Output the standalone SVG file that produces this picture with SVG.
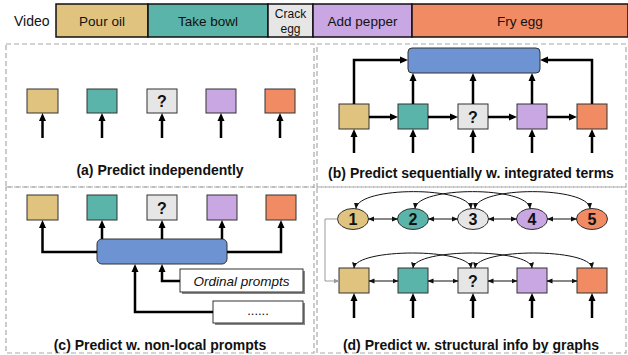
<svg xmlns="http://www.w3.org/2000/svg" width="628" height="355" viewBox="0 0 628 355">
<style>
text{font-family:"Liberation Sans",Arial,sans-serif;fill:#111}
.bar{stroke:#111;stroke-width:1.5}
.lbl{font-size:13.5px;text-anchor:middle}
.cap{font-size:14px;font-weight:bold;text-anchor:middle}
.q{font-size:16px;font-weight:bold;text-anchor:middle}
.panel{fill:none;stroke:#aaa;stroke-width:1.2;stroke-dasharray:5 3}
.bx{stroke:#333;stroke-width:1}
.c1{fill:#DFC37F}.c2{fill:#5BB4A9}.c3{fill:#E6E6E6}.c4{fill:#C9A7E2}.c5{fill:#F08B63}
.blue{fill:#6E93D2;stroke:#333;stroke-width:1}
.th{fill:none;stroke:#000;stroke-width:2.5;marker-end:url(#ah)}
.tn{fill:none;stroke:#111;stroke-width:1;marker-start:url(#sh);marker-end:url(#sh)}
.pr{fill:#fff;stroke:#333;stroke-width:1}
.sh{fill:#888}
</style>
<defs>
<marker id="ah" markerUnits="userSpaceOnUse" markerWidth="8" markerHeight="8" refX="4" refY="4" orient="auto"><path d="M0,0.5 L8,4 L0,7.5 z" fill="#000"/></marker>
<marker id="sh" markerUnits="userSpaceOnUse" markerWidth="6" markerHeight="6" refX="5.5" refY="3" orient="auto-start-reverse"><path d="M0,0.5 L6,3 L0,5.5 z" fill="#111"/></marker>
<marker id="gh" markerUnits="userSpaceOnUse" markerWidth="6" markerHeight="6" refX="5.5" refY="3" orient="auto"><path d="M0,0.5 L6,3 L0,5.5 z" fill="#999"/></marker>
</defs>

<g id="video">
<text x="14" y="26" style="font-size:14px">Video</text>
<rect class="bar c1" x="56" y="4" width="92" height="33"/>
<rect class="bar c2" x="148" y="4" width="120" height="33"/>
<rect class="bar c3" x="268" y="4" width="45" height="33"/>
<rect class="bar c4" x="313" y="4" width="99" height="33"/>
<rect class="bar c5" x="412" y="4" width="216" height="33"/>
<text class="lbl" x="102" y="26">Pour oil</text>
<text class="lbl" x="208" y="26">Take bowl</text>
<text class="lbl" x="290.5" y="18" style="font-size:12px">Crack</text>
<text class="lbl" x="290.5" y="33" style="font-size:12px">egg</text>
<text class="lbl" x="362.5" y="26">Add pepper</text>
<text class="lbl" x="520" y="26">Fry egg</text>
</g>

<g id="panels">
<rect class="panel" x="6" y="44" width="308" height="143"/>
<rect class="panel" x="317" y="44" width="309" height="143"/>
<rect class="panel" x="6" y="187" width="308" height="166"/>
<rect class="panel" x="317" y="187" width="309" height="166"/>
</g>

<g id="panel-a">
<rect class="bx c1" x="27" y="89" width="31" height="24"/>
<rect class="bx c2" x="87" y="89" width="30" height="24"/>
<rect class="bx c3" x="147" y="89" width="30" height="24"/>
<text class="q" x="162" y="107">?</text>
<rect class="bx c4" x="206" y="89" width="30" height="24"/>
<rect class="bx c5" x="265" y="89" width="30" height="24"/>
<text class="cap" x="160" y="175">(a) Predict independently</text>
</g>

<g id="panel-b">
<rect class="blue" x="408" y="48" width="132" height="25" rx="4"/>
<rect class="bx c1" x="339" y="104" width="30" height="25"/>
<rect class="bx c2" x="398" y="104" width="30" height="25"/>
<rect class="bx c3" x="458" y="104" width="30" height="25"/>
<text class="q" x="473" y="122.5">?</text>
<rect class="bx c4" x="517" y="104" width="30" height="25"/>
<rect class="bx c5" x="577" y="104" width="30" height="25"/>
<text class="cap" x="471" y="178">(b) Predict sequentially w. integrated terms</text>
</g>

<g id="panel-c">
<rect class="bx c1" x="27" y="195" width="31" height="25"/>
<rect class="bx c2" x="87" y="195" width="30" height="25"/>
<rect class="bx c3" x="147" y="195" width="30" height="25"/>
<text class="q" x="162" y="213.5">?</text>
<rect class="bx c4" x="207" y="195" width="30" height="25"/>
<rect class="bx c5" x="266" y="195" width="30" height="25"/>
<rect class="blue" x="97" y="239" width="130" height="25" rx="5"/>
<rect class="sh" x="182" y="271" width="123" height="23"/>
<rect class="pr" x="180" y="269" width="123" height="23"/>
<text x="241.5" y="285.5" style="font-size:13.5px;font-style:italic;text-anchor:middle">Ordinal prompts</text>
<rect class="sh" x="215" y="303" width="90" height="22"/>
<rect class="pr" x="213" y="301" width="90" height="22"/>
<text x="258" y="315" style="font-size:13px;text-anchor:middle">......</text>
<text class="cap" x="160" y="350">(c) Predict w. non-local prompts</text>
</g>

<g id="panel-d">
<ellipse class="bx c1" cx="353" cy="219" rx="15.5" ry="10.5"/>
<ellipse class="bx c2" cx="413" cy="219" rx="15.5" ry="10.5"/>
<ellipse class="bx c3" cx="473" cy="219" rx="15.5" ry="10.5"/>
<ellipse class="bx c4" cx="532" cy="219" rx="15.5" ry="10.5"/>
<ellipse class="bx c5" cx="592" cy="219" rx="15.5" ry="10.5"/>
<text class="q" x="353" y="225">1</text>
<text class="q" x="413" y="225">2</text>
<text class="q" x="473" y="225">3</text>
<text class="q" x="532" y="225">4</text>
<text class="q" x="592" y="225">5</text>
<rect class="bx c1" x="339" y="268" width="30" height="25"/>
<rect class="bx c2" x="398" y="268" width="30" height="25"/>
<rect class="bx c3" x="458" y="268" width="30" height="25"/>
<text class="q" x="473" y="286.5">?</text>
<rect class="bx c4" x="517" y="268" width="30" height="25"/>
<rect class="bx c5" x="577" y="268" width="30" height="25"/>
<text class="cap" x="471" y="350">(d) Predict w. structural info by graphs</text>
</g>

<g id="connectors">
<path class="th" d="M42.5,138 V117"/>
<path class="th" d="M102,138 V117"/>
<path class="th" d="M162,138 V117"/>
<path class="th" d="M221,138 V117"/>
<path class="th" d="M280,138 V117"/>
<path class="th" d="M354,153 V133"/>
<path class="th" d="M413,153 V133"/>
<path class="th" d="M473,153 V133"/>
<path class="th" d="M532,153 V133"/>
<path class="th" d="M592,153 V133"/>
<path class="th" d="M369,117 H394"/>
<path class="th" d="M428,117 H454"/>
<path class="th" d="M488,117 H513"/>
<path class="th" d="M547,117 H573"/>
<path class="th" d="M354,104 V60 H404"/>
<path class="th" d="M592,104 V60 H544"/>
<path class="th" d="M413,104 V77"/>
<path class="th" d="M473,104 V77"/>
<path class="th" d="M532,104 V77"/>
<path class="th" d="M97,252 H42.5 V224"/>
<path class="th" d="M227,252 H281 V224"/>
<path class="th" d="M102,239 V224"/>
<path class="th" d="M162,239 V224"/>
<path class="th" d="M222,239 V224"/>
<path class="th" d="M180,281 H162 V268"/>
<path class="th" d="M213,312 H135 V268"/>
<path class="tn" d="M368.5,219 H397.5"/>
<path class="tn" d="M428.5,219 H457.5"/>
<path class="tn" d="M488.5,219 H516.5"/>
<path class="tn" d="M547.5,219 H576.5"/>
<path class="tn" d="M356,208.5 C358,186 469,186 471,208.5"/>
<path class="tn" d="M415,208.5 C417,186 528,186 530,208.5"/>
<path class="tn" d="M475,208.5 C477,186 588,186 590,208.5"/>
<path class="tn" d="M369,281 H398"/>
<path class="tn" d="M428,281 H458"/>
<path class="tn" d="M488,281 H517"/>
<path class="tn" d="M547,281 H577"/>
<path class="tn" d="M354,268 C356,248 469,248 471,268"/>
<path class="tn" d="M413,268 C415,248 530,248 532,268"/>
<path class="tn" d="M475,268 C477,248 590,248 592,268"/>
<path d="M337.5,219 H325 V281 H339" fill="none" stroke="#999" stroke-width="1" marker-end="url(#gh)"/>
<path class="th" d="M354,318 V297"/>
<path class="th" d="M413,318 V297"/>
<path class="th" d="M473,318 V297"/>
<path class="th" d="M532,318 V297"/>
<path class="th" d="M592,318 V297"/>
</g>
</svg>
